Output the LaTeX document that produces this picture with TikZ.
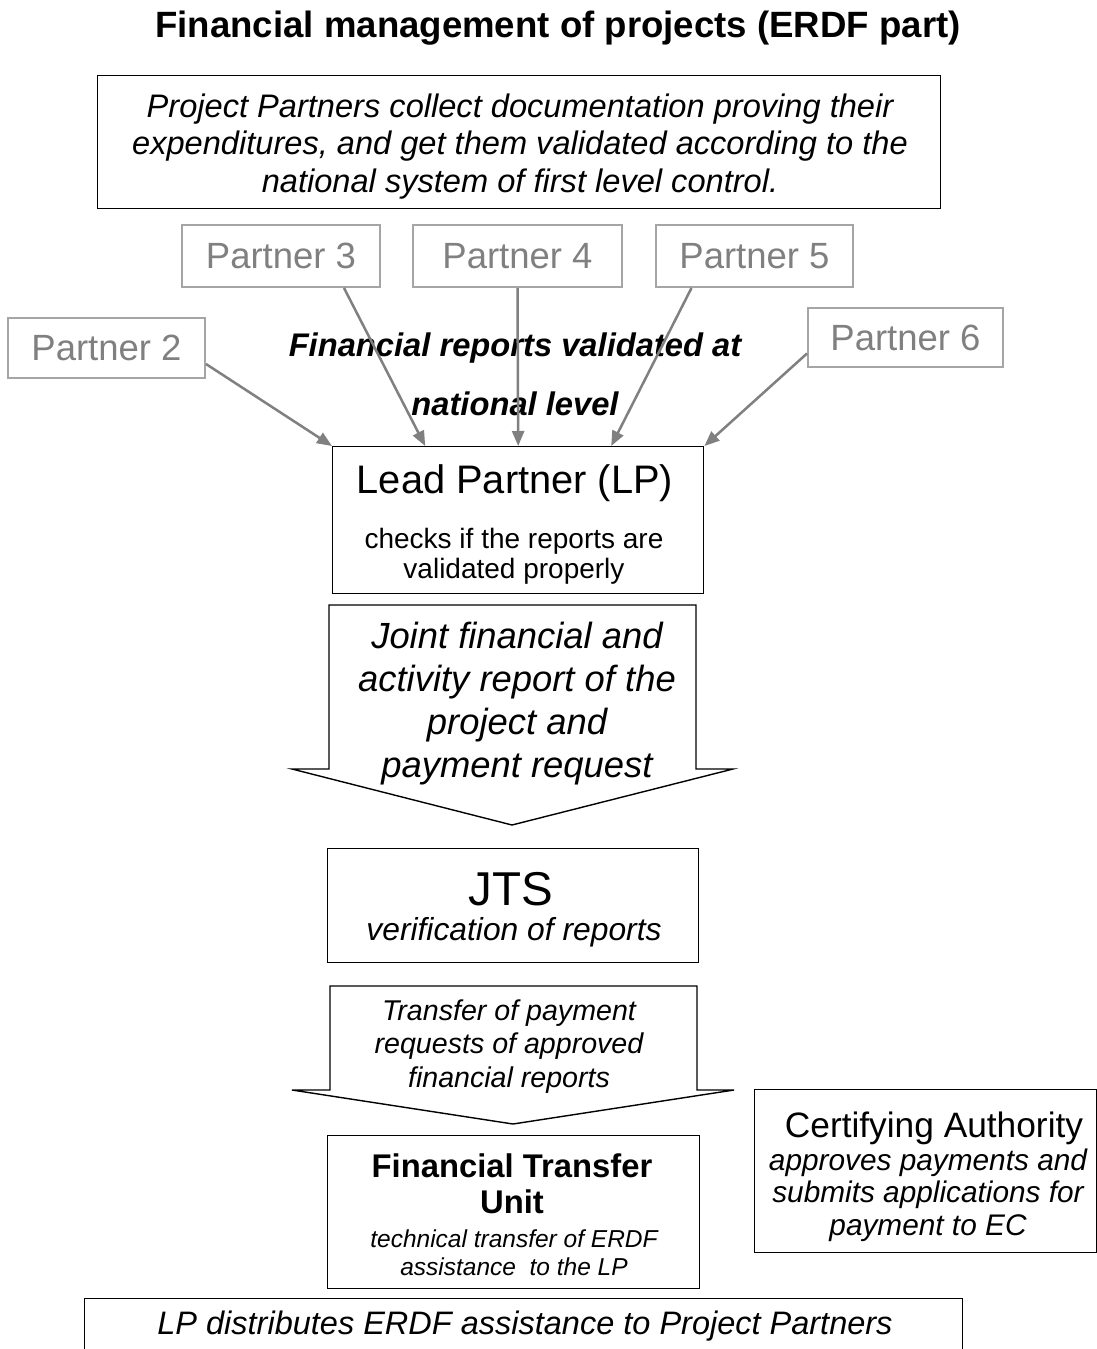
\documentclass[tikz,border=0pt]{standalone}
\usepackage{fontspec}
\setmainfont{Liberation Sans}
\usetikzlibrary{arrows.meta,calc}
\definecolor{pgray}{RGB}{165,165,165}
\definecolor{ptext}{RGB}{128,128,128}
\definecolor{agray}{RGB}{128,128,128}
\newcommand\mlines[2]{\vtop{\baselineskip=#1\relax\lineskiplimit=-1000pt\relax\halign{\hfil##\hfil\cr#2\crcr}}}
\begin{document}
\begin{tikzpicture}[x=1pt,y=-1pt,
  box/.style={draw,line width=1.4pt,rectangle,inner sep=0pt,anchor=north west},
  pbox/.style={draw=pgray,line width=2pt,rectangle,inner sep=0pt,text=ptext,font=\fontsize{36.5}{40}\selectfont},
  txt/.style={inner sep=0pt,anchor=base},
  conn/.style={draw=agray,line width=2.5pt,-{Triangle[length=15pt,width=12pt]}},
  barrow/.style={draw,line width=1.4pt,line join=miter}
]
\useasboundingbox (0,0) rectangle (1097,1349);
\fill[white] (0,0) rectangle (1097,1349);

% title
\node[txt,font=\fontsize{36.6}{40}\selectfont\bfseries] (title) at (558,37) {Financial management of projects (ERDF part)};

% top box
\node[box,minimum width=843pt,minimum height=133pt] (topbox) at (97,75) {};
\node[txt,font=\fontsize{32.6}{37.5}\selectfont\itshape] (toptxt) at (520,117) {\mlines{37.5pt}{Project Partners collect documentation proving their\cr expenditures, and get them validated according to the\cr national system of first level control.}};

% partners
\node[pbox,minimum width=197pt,minimum height=60pt] (p2) at (106.5,348) {Partner 2};
\node[pbox,minimum width=198pt,minimum height=62pt] (p3) at (281,256) {Partner 3};
\node[pbox,minimum width=209pt,minimum height=62pt] (p4) at (517.5,256) {Partner 4};
\node[pbox,minimum width=197pt,minimum height=62pt] (p5) at (754.5,256) {Partner 5};
\node[pbox,minimum width=195pt,minimum height=59pt] (p6) at (905.5,337.5) {Partner 6};

% label
\node[txt,font=\fontsize{32.7}{36}\selectfont\bfseries\itshape] (valid) at (515,356) {\mlines{59pt}{Financial reports validated at\cr national level}};

% lead partner
\node[box,minimum width=371pt,minimum height=147pt] (lp) at (332,446) {};
\node[txt,font=\fontsize{39.8}{44}\selectfont] (lptitle) at (515,493) {Lead Partner (LP)};
\node[txt,font=\fontsize{28}{30}\selectfont] (lpsub) at (514,548) {\mlines{30pt}{checks if the reports are\cr validated properly}};

% connectors
\draw[conn] ([yshift=-16pt]p2.east) -- (lp.north west);
\draw[conn] ([xshift=63pt]p3.south) -- ([xshift=-93pt]lp.north);
\draw[conn] (p4.south) -- (lp.north);
\draw[conn] ([xshift=-63pt]p5.south) -- ([xshift=93pt]lp.north);
\draw[conn] ([yshift=-16pt]p6.west) -- (lp.north east);

% block arrow 1
\draw[barrow] (329,605) -- (696,605) -- (696,769) -- (733,769) -- (512,825) -- (292,769) -- (329,769) -- cycle;
\node[txt,font=\fontsize{36.4}{43}\selectfont\itshape] (a1txt) at (517,648) {\mlines{43pt}{Joint financial and\cr activity report of the\cr project and\cr payment request}};

% JTS
\node[box,minimum width=371pt,minimum height=114pt] (jts) at (327,848) {};
\node[txt,font=\fontsize{47.5}{50}\selectfont] (jtstitle) at (511,905) {JTS};
\node[txt,font=\fontsize{31.8}{34}\selectfont\itshape] (jtssub) at (514,940) {verification of reports};

% block arrow 2
\draw[barrow] (330,986) -- (697,986) -- (697,1090) -- (734,1090) -- (513,1124) -- (292,1090) -- (330,1090) -- cycle;
\node[txt,font=\fontsize{28.6}{33.5}\selectfont\itshape] (a2txt) at (509,1020) {\mlines{33.5pt}{Transfer of payment\cr requests of approved\cr financial reports}};

% financial transfer unit
\node[box,minimum width=372pt,minimum height=153pt] (ftu) at (327,1135) {};
\node[txt,font=\fontsize{32.8}{36}\selectfont\bfseries] (ftutitle) at (512,1177) {\mlines{36pt}{Financial Transfer\cr Unit}};
\node[txt,font=\fontsize{24.5}{28}\selectfont\itshape] (ftusub) at (514,1247) {\mlines{28pt}{technical transfer of ERDF\cr assistance\ \ to the LP}};

% certifying authority
\node[box,minimum width=342pt,minimum height=163pt] (ca) at (754,1089) {};
\node[txt,font=\fontsize{35.3}{40}\selectfont] (catitle) at (934,1137) {Certifying Authority};
\node[txt,font=\fontsize{29.8}{32.5}\selectfont\itshape] (casub) at (928,1170) {\mlines{32.5pt}{approves payments and\cr submits applications for\cr payment to EC}};

% bottom box
\node[box,minimum width=878pt,minimum height=102pt] (bot) at (84,1298) {};
\node[txt,font=\fontsize{32.5}{36}\selectfont\itshape] (bottxt) at (525,1334) {LP distributes ERDF assistance to Project Partners};
\end{tikzpicture}
\end{document}
